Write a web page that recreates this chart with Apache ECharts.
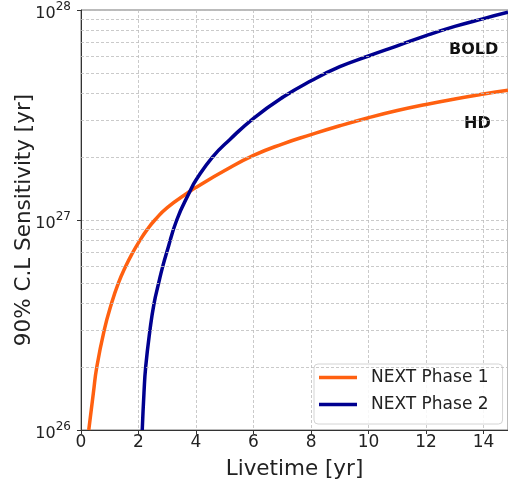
<!DOCTYPE html>
<html>
<head>
<meta charset="utf-8">
<script src="https://cdn.jsdelivr.net/npm/echarts@6/dist/echarts.min.js"></script>
<style>html,body{margin:0;padding:0;background:#fff;}#c{width:508px;height:479px;}</style>
</head>
<body>
<div id="c"></div>
<script>
// Livetime [yr] vs 90% C.L. sensitivity [yr]
const phase1X = [0.27, 0.43, 0.55, 0.81, 1.06, 1.30, 1.55, 1.80, 2.05, 2.30, 2.57, 3.0, 3.79, 4.0, 5.0, 6.0, 7.0, 8.0, 9.0, 10.0, 11.0, 12.0, 13.0, 14.0, 14.85];
const phase1Y = [1.0e26, 1.5e26, 2.0e26, 3.0e26, 4.0e26, 5.0e26, 6.0e26, 7.0e26, 8.0e26, 9.0e26, 1.0e27, 1.145e27, 1.37e27, 1.43e27, 1.72e27, 2.03e27, 2.3e27, 2.55e27, 2.81e27, 3.07e27, 3.32e27, 3.55e27, 3.77e27, 3.98e27, 4.15e27];
const phase2X = [2.13, 2.19, 2.25, 2.40, 2.54, 2.70, 2.84, 2.98, 3.33, 3.79, 4.0, 4.58, 5.18, 6.0, 7.03, 8.0, 9.0, 10.0, 11.0, 12.0, 13.0, 14.0, 14.85];
const phase2Y = [1.0e26, 1.5e26, 2.0e26, 3.0e26, 4.0e26, 5.0e26, 6.0e26, 7.0e26, 1.0e27, 1.37e27, 1.55e27, 2.0e27, 2.42e27, 3.05e27, 3.85e27, 4.6e27, 5.37e27, 6.04e27, 6.75e27, 7.55e27, 8.35e27, 9.1e27, 9.75e27];
const seriesNames = ['NEXT Phase 1', 'NEXT Phase 2'];
const minorGridValues = [2e26, 3e26, 4e26, 5e26, 6e26, 7e26, 8e26, 9e26, 2e27, 3e27, 4e27, 5e27, 6e27, 7e27, 8e27, 9e27];
const annotations = ['BOLD', 'HD'];

const pairs = (xs, ys) => xs.map((x, i) => [x, ys[i]]);
const font = 'DejaVu Sans';
const gridColor = '#bdbdbd';
const gridDash = [3, 2];

const chart = echarts.init(document.getElementById('c'), null, {renderer: 'canvas'});
chart.setOption({
  animation: false,
  backgroundColor: '#fff',
  textStyle: {fontFamily: font},
  grid: {left: 81, right: 0, top: 10, bottom: 49, containLabel: false, outerBoundsMode: 'none',
         show: true, borderColor: '#777', borderWidth: 1},
  xAxis: {
    type: 'value', min: 0, max: 14.85, interval: 2,
    name: 'Livetime [yr]', nameLocation: 'middle', nameGap: 28, nameMoveOverlap: false,
    nameTextStyle: {fontSize: 21.5, color: '#222', fontFamily: font},
    axisLine: {show: true, lineStyle: {color: '#333', width: 1}},
    axisTick: {show: true, length: 4, lineStyle: {color: '#333'}},
    axisLabel: {fontSize: 17, color: '#222', margin: 4, showMaxLabel: false, fontFamily: font},
    splitLine: {show: true, lineStyle: {color: gridColor, type: gridDash, width: 0.8}}
  },
  yAxis: {
    type: 'log', logBase: 10, min: 1e26, max: 1e28,
    name: '90% C.L Sensitivity [yr]', nameLocation: 'middle', nameGap: 46, nameMoveOverlap: false,
    nameTextStyle: {fontSize: 21.5, color: '#222', fontFamily: font},
    axisLine: {show: true, lineStyle: {color: '#333', width: 1}},
    axisTick: {show: true, length: 4, lineStyle: {color: '#333'}},
    axisLabel: {
      margin: 10, color: '#222',
      formatter: v => '{b|10}{s|' + Math.round(Math.log10(v)) + '}',
      rich: {
        b: {fontSize: 16, fontFamily: font, color: '#222', padding: [7, 0, 0, 0]},
        s: {fontSize: 12, fontFamily: font, color: '#222', padding: [0, 0, 6, 0]}
      }
    },
    splitLine: {show: true, lineStyle: {color: gridColor, type: gridDash, width: 0.8}}
  },
  legend: {
    orient: 'vertical', left: 314, top: 364,
    data: seriesNames.map(n => ({name: n, icon: 'rect'})),
    itemWidth: 38, itemHeight: 3.5, itemGap: 10,
    padding: [5, 14, 11, 5],
    backgroundColor: 'rgba(255,255,255,0.85)', borderColor: '#d4d4d4', borderWidth: 1, borderRadius: 4,
    textStyle: {fontSize: 17, color: '#222', fontFamily: font, padding: [0, 0, 0, 9]}
  },
  graphic: [
    {type: 'text', left: 449, top: 42, style: {text: annotations[0], font: 'bold 16px "DejaVu Sans"', fill: '#111'}},
    {type: 'text', left: 464, top: 116, style: {text: annotations[1], font: 'bold 16px "DejaVu Sans"', fill: '#111'}}
  ],
  series: [
    {
      name: 'minor', type: 'line', data: [], z: 1, silent: true,
      markLine: {
        silent: true, symbol: 'none', label: {show: false},
        lineStyle: {color: gridColor, type: gridDash, width: 0.8},
        data: minorGridValues.map(v => ({yAxis: v}))
      }
    },
    {
      name: seriesNames[0], type: 'line', data: pairs(phase1X, phase1Y),
      smooth: 0.5, symbol: 'none', z: 3,
      lineStyle: {color: '#ff6010', width: 3.5}, itemStyle: {color: '#ff6010'}
    },
    {
      name: seriesNames[1], type: 'line', data: pairs(phase2X, phase2Y),
      smooth: 0.5, symbol: 'none', z: 3,
      lineStyle: {color: '#000090', width: 3.5}, itemStyle: {color: '#000090'}
    }
  ]
});
</script>
</body>
</html>
